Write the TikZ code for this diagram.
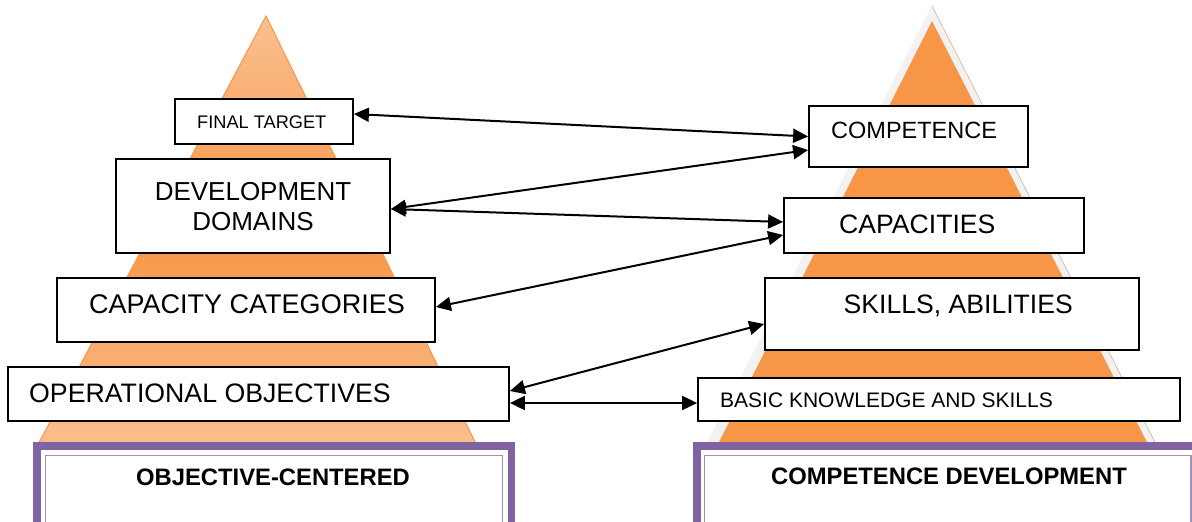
\documentclass[tikz,border=0pt]{standalone}
\usepackage{fontspec}
\setmainfont{Liberation Sans}
\usetikzlibrary{arrows.meta}
\definecolor{orlight}{HTML}{FAC090}
\definecolor{ormid}{HTML}{F79646}
\definecolor{orline}{HTML}{F79646}
\definecolor{purp}{HTML}{8064A2}
\definecolor{purplight}{HTML}{A28FC0}
\definecolor{shadowgrey}{HTML}{F2F2F2}
\definecolor{tanline}{HTML}{D9B08C}
\tikzset{
  box/.style={draw=black, fill=white, line width=1.8pt, inner sep=0pt, rectangle},
  lbl/.style={inner sep=0pt, anchor=base west},
  lblc/.style={inner sep=0pt, anchor=base},
  biarrow/.style={{Triangle[length=15pt,width=14pt]}-{Triangle[length=15pt,width=14pt]}, line width=2pt, black},
  big/.style={font=\fontsize{26.6}{30}\selectfont},
}
\begin{document}
\begin{tikzpicture}[x=1pt,y=-1pt]
\useasboundingbox (0,0) rectangle (1192,522);
\clip (0,0) rectangle (1192,522);
\fill[white] (0,0) rectangle (1192,522);
% left pyramid
\shade[top color=orlight, bottom color=orlight, middle color=ormid, draw=orline, line width=1pt]
  (266,16) -- (480,452) -- (34,452) -- cycle;
% right pyramid
\fill[shadowgrey] (932,6) -- (1160,452) -- (702,452) -- cycle;
\draw[tanline, line width=0.6pt] (932,6) -- (1160,452);
\fill[ormid] (932,21) -- (1152,452) -- (714,452) -- cycle;
% base frames
\draw[purp, line width=7.5pt, fill=white] (36.75,445.75) rectangle (511.25,540);
\draw[purplight, line width=1.5pt] (45.3,455.5) rectangle (502.7,540);
\node[lblc, font=\bfseries\fontsize{23.8}{27}\selectfont] (objc) at (273,485) {OBJECTIVE-CENTERED};
\draw[purp, line width=7.5pt, fill=white] (696.75,445.75) rectangle (1205,540);
\draw[purplight, line width=1.5pt] (704.3,455.5) rectangle (1191,540);
\node[lblc, font=\bfseries\fontsize{23.8}{27}\selectfont] (compd) at (949,484) {COMPETENCE DEVELOPMENT};
% left boxes
\node[box, minimum width=178pt, minimum height=45pt] (ft) at (264,121.5) {};
\node[lbl, font=\fontsize{18.2}{21}\selectfont] at (197,128) {FINAL TARGET};
\node[box, minimum width=274pt, minimum height=94pt] (dd) at (253,206) {};
\node[lblc, font=\fontsize{26}{30}\selectfont] at (253,200) {DEVELOPMENT};
\node[lblc, font=\fontsize{26}{30}\selectfont] at (253,230) {DOMAINS};
\node[box, minimum width=378pt, minimum height=64pt] (cc) at (246,310) {};
\node[lbl, font=\fontsize{27}{30}\selectfont] at (89,313) {CAPACITY CATEGORIES};
\node[box, minimum width=501pt, minimum height=54pt] (oo) at (258.5,394) {};
\node[lbl, font=\fontsize{26.7}{30}\selectfont] at (29,402) {OPERATIONAL OBJECTIVES};
% right boxes
\node[box, minimum width=219pt, minimum height=61pt] (comp) at (918.5,136.5) {};
\node[lbl, font=\fontsize{23.5}{27}\selectfont] at (831,138) {COMPETENCE};
\node[box, minimum width=300pt, minimum height=55pt] (cap) at (934,225.5) {};
\node[lbl, big] at (839,233) {CAPACITIES};
\node[box, minimum width=374pt, minimum height=72pt] (sk) at (952,314) {};
\node[lbl, big] at (843.5,313) {SKILLS, ABILITIES};
\node[box, minimum width=482pt, minimum height=43pt] (bk) at (939,399.5) {};
\node[lbl, font=\fontsize{21}{24}\selectfont] at (720,407) {BASIC KNOWLEDGE AND SKILLS};
% connectors
\draw[biarrow] ([yshift=7.5pt]ft.east) -- (comp.west);
\draw[biarrow] ([yshift=-3pt]dd.east) -- ([yshift=-13.5pt]comp.west);
\draw[biarrow] ([yshift=-3pt]dd.east) -- ([yshift=3.5pt]cap.west);
\draw[biarrow] ([yshift=3pt]cc.east) -- ([yshift=-9.5pt]cap.west);
\draw[biarrow] ([yshift=3pt]oo.east) -- ([yshift=-10pt]sk.west);
\draw[biarrow] ([yshift=-9pt]oo.east) -- ([yshift=-3.5pt]bk.west);
\end{tikzpicture}
\end{document}
